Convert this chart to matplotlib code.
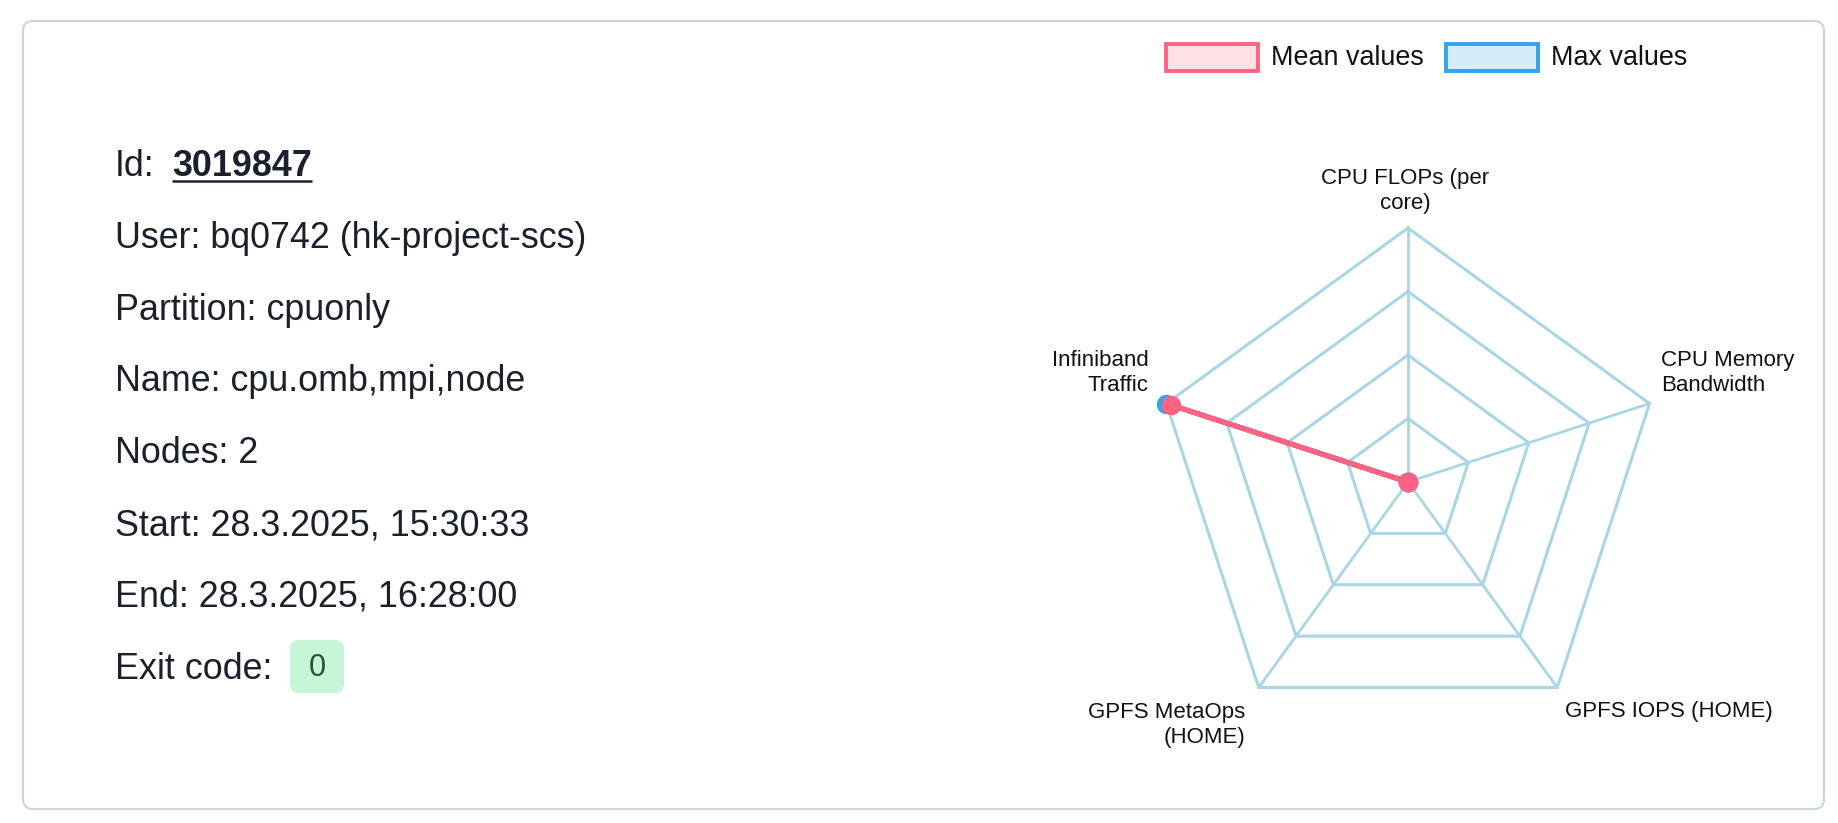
import numpy as np
import matplotlib
matplotlib.use("Agg")
import matplotlib.pyplot as plt
from matplotlib.patches import FancyBboxPatch, Rectangle

W, H = 1838, 823
FONT = "Liberation Sans"
INK, GRID, PINK, BLUE = "#1a202c", "#a9d6e4", "#ff6384", "#36a2eb"

# job info
job_id = "3019847"
info_lines = ["User: bq0742 (hk-project-scs)", "Partition: cpuonly",
              "Name: cpu.omb,mpi,node", "Nodes: 2",
              "Start: 28.3.2025, 15:30:33", "End: 28.3.2025, 16:28:00"]
exit_code = "0"

# radar data (normalised to the max scale)
metrics = ["CPU FLOPs (per\ncore)", "CPU Memory\nBandwidth", "GPFS IOPS (HOME)",
           "GPFS MetaOps\n(HOME)", "Infiniband\nTraffic"]
mean_vals = [0.0, 0.0, 0.0, 0.0, 0.98]
max_vals = [0.0, 0.0, 0.0, 0.0, 1.0]
series = [("Max values", max_vals, BLUE), ("Mean values", mean_vals, PINK)]
levels = [0.25, 0.5, 0.75, 1.0]

fig = plt.figure(figsize=(W / 100, H / 100), dpi=100)
fig.patch.set_facecolor("white")

# overlay axes in pixel coordinates
ax = fig.add_axes([0, 0, 1, 1])
ax.set_xlim(0, W); ax.set_ylim(H, 0); ax.axis("off")

ax.add_patch(FancyBboxPatch((23, 21), 1801, 788, boxstyle="round,pad=0,rounding_size=10",
                            fc="white", ec="#cbd5e0", lw=1.5))

# left text block
x0, y0, dy = 115, 176, 71.8
fs = 25.8
ax.text(x0, y0, "Id:", fontsize=fs, family=FONT, color=INK, va="baseline")
tid = ax.text(172, y0, job_id, fontsize=fs, family=FONT, color=INK, va="baseline",
              fontweight="bold")
for i, line in enumerate(info_lines):
    ax.text(x0, y0 + dy * (i + 1), line, fontsize=fs, family=FONT, color=INK, va="baseline")
ye = y0 + dy * 7
ax.text(x0, ye, "Exit code:", fontsize=fs, family=FONT, color=INK, va="baseline")
ax.add_patch(FancyBboxPatch((290, 640), 54, 53, boxstyle="round,pad=0,rounding_size=9",
                            fc="#c6f6d5", ec="none"))
ax.text(317, 668, exit_code, fontsize=22, family=FONT, color="#22543d",
        ha="center", va="center")

fig.canvas.draw()
bb = tid.get_window_extent()
ax.plot([bb.x0, bb.x1], [181, 181], color=INK, lw=1.8, solid_capstyle="butt")

# legend
leg = [(1166, "Mean values", "#ffe0e6", PINK), (1446, "Max values", "#d7ecfb", BLUE)]
for lx, lab, fc, ec in leg:
    ax.add_patch(Rectangle((lx, 44), 92, 27, fc=fc, ec=ec, lw=2.8))
    ax.text(lx + 105, 57.5, lab, fontsize=19.4, family=FONT, color="#111111",
            va="center", ha="left")

# radar
cx, cy, R = 1408, 482, 254
pax = fig.add_axes([(cx - R) / W, (H - cy - R) / H, 2 * R / W, 2 * R / H], projection="polar")
pax.set_theta_offset(np.pi / 2)
pax.set_theta_direction(-1)
pax.set_ylim(0, 1.0)
pax.axis("off")
theta = np.linspace(0, 2 * np.pi, len(metrics), endpoint=False)
tc = np.append(theta, theta[0])
for lv in levels:
    pax.plot(tc, [lv] * len(tc), color=GRID, lw=2.2, clip_on=False, zorder=1)
for t in theta:
    pax.plot([t, t], [0, levels[-1]], color=GRID, lw=2.0, clip_on=False, zorder=1)
for name, vals, col in series:
    v = np.append(vals, vals[0])
    pax.plot(tc, v, color=col, lw=3.6, clip_on=False, zorder=3)
    pax.plot(theta, vals, "o", color=col, ms=13, clip_on=False, zorder=4)

# axis labels
lab_pos = [(1405, 191, "center"), (1661, 373, "left"), (1565, 711, "left"),
           (1245, 725, "right"), (1149, 373, "right")]
for (lx, ly, ha), name in zip(lab_pos, metrics):
    ax.text(lx, ly, name, fontsize=16, family=FONT, color="#111111", ha=ha,
            va="center", multialignment=ha, linespacing=1.3)

fig.savefig("out.png", dpi=100, facecolor="white")
